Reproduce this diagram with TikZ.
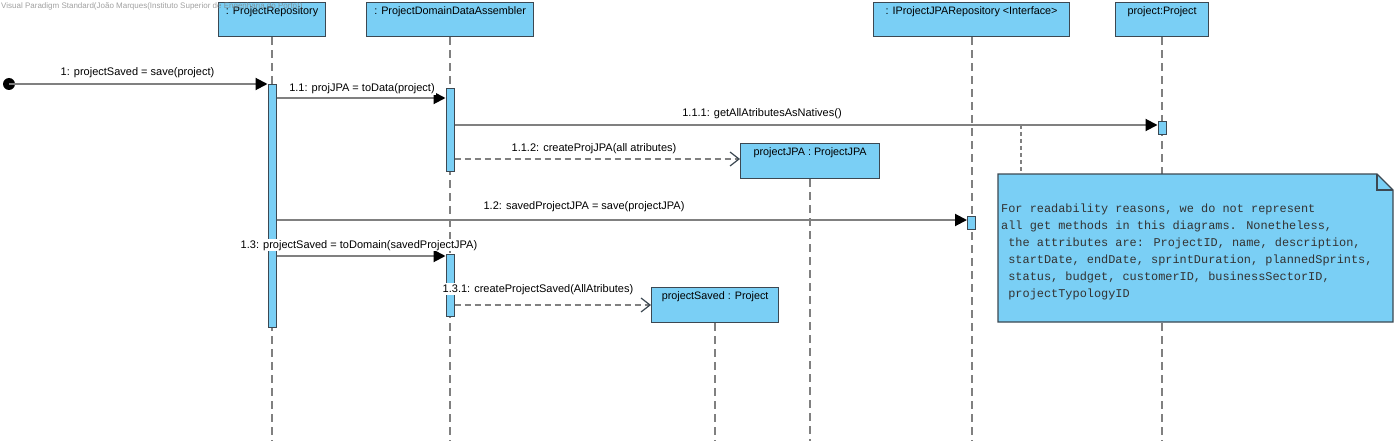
\documentclass[tikz,border=0pt]{standalone}
\usepackage{fontspec}
\setmainfont{Liberation Sans}
\newfontfamily\notemono{Liberation Mono}
\usetikzlibrary{arrows.meta}
\definecolor{vpblue}{RGB}{122,207,245}
\definecolor{vpborder}{RGB}{60,72,82}
\definecolor{vpline}{RGB}{128,128,128}
\begin{document}
\begin{tikzpicture}[x=1pt,y=-1pt,
  obj/.style={draw=vpborder, fill=vpblue, line width=1.2pt, inner sep=0, anchor=north west},
  ttl/.style={anchor=base, font=\fontsize{10.8}{12}\selectfont, inner sep=0},
  lbl/.style={anchor=base, font=\fontsize{11}{13}\selectfont, fill=white, inner sep=1pt},
  lifeline/.style={draw=vpline, line width=2pt, dash pattern=on 8pt off 5pt},
  act/.style={draw=vpborder, fill=vpblue, line width=1.2pt, inner sep=0, minimum width=8pt, anchor=north},
  msg/.style={draw=vpline, line width=2pt, -{Triangle[length=12pt,width=12pt,color=black]}},
  create/.style={draw=vpline, line width=2pt, dash pattern=on 6pt off 4pt, -{Straight Barb[length=9pt,width=14pt,line width=1.2pt,color=vpborder]}},
  anchorline/.style={draw=vpline, line width=1.5pt, dash pattern=on 4pt off 3pt},
]
\useasboundingbox (0,0) rectangle (1397,441);

% object boxes
\node[obj, minimum width=107pt, minimum height=34pt] (pr) at (218,2) {};
\node[obj, minimum width=167pt, minimum height=34pt] (da) at (366,2) {};
\node[obj, minimum width=196pt, minimum height=34pt] (jr) at (873,2) {};
\node[obj, minimum width=93pt, minimum height=34pt] (pp) at (1115,2) {};

% lifelines
\coordinate (prb) at (pr.south |- 0,441);
\coordinate (dab) at (da.south |- 0,441);
\coordinate (jrb) at (jr.south |- 0,441);
\coordinate (ppb) at (pp.south |- 0,441);
\draw[lifeline] (pr.south) -- (prb);
\draw[lifeline] (da.south) -- (dab);
\draw[lifeline] (jr.south) -- (jrb);
\draw[lifeline] (pp.south) -- (ppb);

% created objects
\node[obj, minimum width=139pt, minimum height=35pt] (pj) at (740,143) {};
\node[obj, minimum width=127pt, minimum height=35pt] (ps) at (651,287) {};
\coordinate (pjb) at (pj.south |- 0,441);
\coordinate (psb) at (ps.south |- 0,441);
\draw[lifeline] (pj.south) -- (pjb);
\draw[lifeline] (ps.south) -- (psb);

% titles
\node[ttl] (prt) at (pr.north |- 0,15) {: ProjectRepository};
\node[ttl] (dat) at (da.north |- 0,15) {: ProjectDomainDataAssembler};
\node[ttl] (jrt) at (jr.north |- 0,15) {: IProjectJPARepository <Interface>};
\node[ttl] (ppt) at (pp.north |- 0,15) {project:Project};
\node[ttl] (pjt) at (pj.north |- 0,156) {projectJPA : ProjectJPA};
\node[ttl] (pst) at (ps.north |- 0,299) {projectSaved : Project};

% note
\coordinate (nA) at (998,174);
\coordinate (nB) at (1377,174);
\coordinate (nC) at (1393,190);
\coordinate (nD) at (1393,322);
\coordinate (nE) at (998,322);
\coordinate (nF) at (1377,190);
\coordinate (nanc) at (1021,125);
\draw[anchorline] (nanc) -- (nanc |- nA);
\draw[draw=vpborder, fill=vpblue, line width=1.2pt] (nA) -- (nB) -- (nC) -- (nD) -- (nE) -- cycle;
\draw[vpborder, line width=1.2pt] (nB) -- (nF) -- (nC);
\node[anchor=north west, align=left, inner sep=0, text=black!80,
      font=\notemono\fontsize{11.9}{17}\selectfont] (note) at (1001,203.5)
  {For readability reasons, we do not represent\\
   all get methods in this diagrams. Nonetheless,\\
   \ the attributes are: ProjectID, name, description,\\
   \ startDate, endDate, sprintDuration, plannedSprints,\\
   \ status, budget, customerID, businessSectorID,\\
   \ projectTypologyID};

% activations
\node[act, minimum height=243pt] (a1) at (pr.south |- 0,84) {};
\node[act, minimum height=83pt] (a2) at (da.south |- 0,88) {};
\node[act, minimum height=62pt] (a3) at (da.south |- 0,254) {};
\node[act, minimum height=13pt] (a4) at (pp.south |- 0,121) {};
\node[act, minimum height=13pt] (a5) at (jr.south |- 0,216) {};

% start
\node[circle, fill=black, inner sep=0, minimum size=12pt] (st) at (9,84) {};

% messages
\draw[msg] (st.center) -- (a1.west |- st.center);
\draw[msg] (a1.east |- 0,98) -- (a2.west |- 0,98);
\draw[msg] (a2.east |- 0,125) -- (a4.west |- 0,125);
\draw[create] (a2.east |- 0,159) -- (pj.west |- 0,159);
\draw[msg] (a1.east |- 0,220) -- (a5.west |- 0,220);
\draw[msg] (a1.east |- 0,256) -- (a3.west |- 0,256);
\draw[create] (a3.east |- 0,305) -- (ps.west |- 0,305);

% labels
\node[lbl] (l1) at (137.5,76) {1: projectSaved = save(project)};
\node[lbl] (l11) at (362,92) {1.1: projJPA = toData(project)};
\node[lbl] (l111) at (762,117) {1.1.1: getAllAtributesAsNatives()};
\node[lbl] (l112) at (594,152) {1.1.2: createProjJPA(all atributes)};
\node[lbl] (l12) at (584,209) {1.2: savedProjectJPA = save(projectJPA)};
\node[lbl] (l13) at (359,248) {1.3: projectSaved = toDomain(savedProjectJPA)};
\node[lbl] (l131) at (538,292) {1.3.1: createProjectSaved(AllAtributes)};

% watermark
\node[anchor=base west, font=\fontsize{8}{9}\selectfont, text=gray, opacity=0.75, inner sep=0] (wm) at (1,9)
  {Visual Paradigm Standard(João Marques(Instituto Superior de Engenharia do Porto))};
\end{tikzpicture}
\end{document}
